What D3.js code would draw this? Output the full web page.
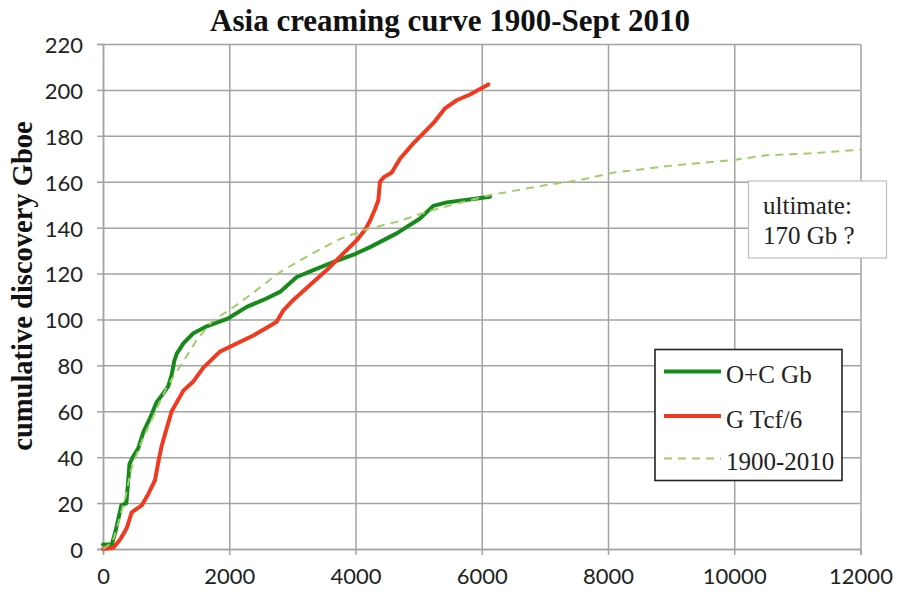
<!DOCTYPE html>
<html>
<head>
<meta charset="utf-8">
<script src="https://cdn.jsdelivr.net/npm/d3@7"></script>
<style>
  html, body { margin: 0; padding: 0; background: #fff; }
  svg { display: block; }
</style>
</head>
<body>
<svg id="chart" width="900" height="592"></svg>
<script>
// ---- data ----
const titleText = "Asia creaming curve 1900-Sept 2010";
const yLabelText = "cumulative discovery Gboe";
const xTicks = [0, 2000, 4000, 6000, 8000, 10000, 12000];
const yTicks = [0, 20, 40, 60, 80, 100, 120, 140, 160, 180, 200, 220];
const seriesNames = ["O+C Gb", "G Tcf/6", "1900-2010"];
const noteLines = ["ultimate:", "170 Gb ?"];

const oilX = [0, 140, 200, 250, 290, 370, 400, 420, 470, 560, 640, 745, 850, 960, 1035, 1088, 1130, 1167, 1273, 1432, 1643, 1986, 2277, 2540, 2804, 3069, 3332, 3649, 3992, 4230, 4652, 5022, 5233, 5444, 5866, 6131];
const oilY = [2, 2, 8, 14, 19, 20, 30, 37, 40, 44, 51, 57, 64, 68, 71, 76, 82, 85, 89.6, 94, 97, 100.5, 105.5, 108.5, 112, 118.5, 121.5, 125, 128.5, 131.5, 137.5, 144, 149.5, 151, 152.5, 153.5];

const gasX = [0, 160, 269, 375, 455, 613, 718, 824, 877, 930, 982, 1088, 1273, 1432, 1590, 1853, 2118, 2381, 2600, 2751, 2857, 3015, 3279, 3544, 3808, 4019, 4150, 4230, 4309, 4362, 4388, 4450, 4574, 4705, 4916, 5233, 5418, 5603, 5814, 6104];
const gasY = [0, 0.5, 4, 9, 16, 19, 24, 30, 38, 45, 50, 60, 69, 73, 79, 86, 89.5, 93, 96.5, 99, 104, 108.5, 115, 121.5, 128.8, 134.5, 139, 143, 148, 152, 160, 162, 164, 170, 176.7, 185.5, 192, 195.5, 198, 202.4];

const fitX = [0, 150, 250, 350, 450, 600, 800, 1000, 1220, 1484, 1748, 2000, 2300, 2800, 3300, 3750, 4200, 4650, 5200, 6100, 7000, 7550, 8100, 9100, 10000, 10500, 11250, 12000];
const fitY = [0, 3, 12, 22, 35, 46, 58, 70, 79.5, 91, 99.8, 104, 110, 120.5, 128.5, 135, 139.5, 142.5, 147.5, 154, 158.5, 160.7, 164, 167.3, 169.5, 171.5, 172.4, 174];

// ---- layout ----
const svg = d3.select("#chart");
const pL = 103, pR = 860.5, pT = 44, pB = 549;
const x = d3.scaleLinear().domain([0, 12000]).range([pL, pR]);
const y = d3.scaleLinear().domain([0, 220]).range([pB, pT]);

const gridColor = "#a3a3a3";
const sansFont = "Lato, 'Open Sans', sans-serif";
const serifFont = "'Liberation Serif', 'DejaVu Serif', serif";

// grid: horizontal
svg.append("g")
  .attr("transform", `translate(${pL},0)`)
  .call(d3.axisLeft(y).tickValues(yTicks).tickSize(-(pR - pL)).tickFormat(""))
  .call(g => g.select(".domain").remove())
  .call(g => g.selectAll("line").attr("stroke", gridColor).attr("stroke-width", 1.5));
// grid: vertical
svg.append("g")
  .attr("transform", `translate(0,${pB})`)
  .call(d3.axisBottom(x).tickValues(xTicks).tickSize(-(pB - pT)).tickFormat(""))
  .call(g => g.select(".domain").remove())
  .call(g => g.selectAll("line").attr("stroke", gridColor).attr("stroke-width", 1.5));

// y axis
svg.append("g")
  .attr("transform", `translate(${pL},0)`)
  .call(d3.axisLeft(y).tickValues(yTicks).tickSize(6).tickPadding(14).tickFormat(d3.format("d")))
  .call(g => g.select(".domain").attr("stroke", gridColor).attr("stroke-width", 1.5))
  .call(g => g.selectAll("line").attr("stroke", gridColor).attr("stroke-width", 1.5))
  .call(g => g.selectAll("text").attr("font-family", sansFont).attr("font-size", 22).attr("fill", "#222").attr("dy", "0.38em"));

// x axis
svg.append("g")
  .attr("transform", `translate(0,${pB})`)
  .call(d3.axisBottom(x).tickValues(xTicks).tickSize(6).tickPadding(13).tickFormat(d3.format("d")))
  .call(g => g.select(".domain").attr("stroke", gridColor).attr("stroke-width", 1.5))
  .call(g => g.selectAll("line").attr("stroke", gridColor).attr("stroke-width", 1.5))
  .call(g => g.selectAll("text").attr("font-family", sansFont).attr("font-size", 22).attr("fill", "#222"));

// lines
const line = d3.line().x(d => x(d[0])).y(d => y(d[1]));
const zip = (a, b) => a.map((v, i) => [v, b[i]]);

const colors = ["#178a1c", "#f03a20", "#a3cc6a"];

svg.append("path").datum(zip(oilX, oilY))
  .attr("d", line).attr("fill", "none").attr("stroke", colors[0])
  .attr("stroke-width", 4).attr("stroke-linejoin", "round").attr("stroke-linecap", "round");
svg.append("path").datum(zip(gasX, gasY))
  .attr("d", line).attr("fill", "none").attr("stroke", colors[1])
  .attr("stroke-width", 4).attr("stroke-linejoin", "round").attr("stroke-linecap", "round");
svg.append("path").datum(zip(fitX, fitY))
  .attr("d", line).attr("fill", "none").attr("stroke", colors[2])
  .attr("stroke-width", 2).attr("stroke-dasharray", "8,6");

// title
svg.append("text").attr("x", 450).attr("y", 31).attr("text-anchor", "middle")
  .attr("font-family", serifFont).attr("font-weight", "bold").attr("font-size", 31)
  .attr("fill", "#111").text(titleText);

// y label
svg.append("text").attr("transform", `translate(32,286) rotate(-90)`)
  .attr("text-anchor", "middle")
  .attr("font-family", serifFont).attr("font-weight", "bold").attr("font-size", 28.5)
  .attr("fill", "#111").text(yLabelText);

// note box
const note = svg.append("g");
note.append("rect").attr("x", 748.5).attr("y", 181).attr("width", 138).attr("height", 77)
  .attr("fill", "#fff").attr("stroke", "#bdbdbd").attr("stroke-width", 1.2);
note.selectAll("text").data(noteLines).join("text")
  .attr("x", 763).attr("y", (d, i) => 214 + i * 30)
  .attr("font-family", serifFont).attr("font-size", 25).attr("fill", "#222").text(d => d);

// legend
const leg = svg.append("g");
leg.append("rect").attr("x", 655).attr("y", 349.5).attr("width", 187).attr("height", 131)
  .attr("fill", "#fff").attr("stroke", "#222").attr("stroke-width", 1.6);
const legY = [371.5, 416, 458.5];
seriesNames.forEach((name, i) => {
  leg.append("line").attr("x1", 664).attr("x2", 721).attr("y1", legY[i]).attr("y2", legY[i])
    .attr("stroke", colors[i]).attr("stroke-width", i < 2 ? 4 : 2)
    .attr("stroke-dasharray", i < 2 ? null : "8,6");
  leg.append("text").attr("x", 726).attr("y", legY[i] + 11.5)
    .attr("font-family", serifFont).attr("font-size", 25).attr("fill", "#222").text(name);
});
</script>
</body>
</html>
